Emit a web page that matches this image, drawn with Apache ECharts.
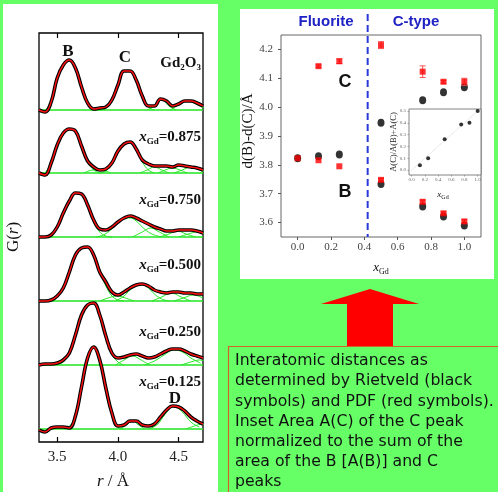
<!DOCTYPE html>
<html><head><meta charset="utf-8">
<script src="https://cdn.jsdelivr.net/npm/echarts@6/dist/echarts.min.js"></script>
<style>html,body{margin:0;padding:0;background:#66ff66;}#c{width:498px;height:492px;}</style>
</head><body><div id="c"></div>
<script>
// ---------------- Left panel: G(r) ----------------
const rGrid = [3.35,3.40,3.45,3.50,3.55,3.60,3.65,3.70,3.75,3.80,3.85,3.90,3.95,4.00,4.05,4.10,4.15,4.20,4.25,4.30,4.35,4.40,4.45,4.50,4.55,4.60,4.65,4.70];
const curveGd2O3 = [0,-2,8,32,45,50,42,23,7,1,2,3,10,25,39,39,30,14,4,4,11,9,4,6,9,9,7,4];
const curve0875  = [0,-2,10,28,40,44,42,27,12,6,3,4,10,22,29,31,24,13,9,7,7,7,6,8,7,6,5,3];
const curve0750  = [0,0,2,10,24,36,44,43,32,17,8,7,10,15,19,21,19,16,13,10,8,6,6,7,7,7,6,4];
const curve0500  = [0,0,1,5,13,29,46,53,54,46,29,19,9,6,9,13,16,17,15,11,9,8,9,9,8,8,7,7];
const curve0250  = [0,1,1,2,5,12,30,50,60,62,50,29,12,7,8,10,11,9,7,8,11,14,16,16,14,11,9,7];
const curve0125  = [-1,-3,1,2,2,1,13,42,71,82,69,41,16,3,4,8,8,4,3,5,12,19,23,22,18,12,8,5];

// fitted component peaks (green), [r, height]
const compsGd2O3 = [
  [[3.40,0],[3.45,8],[3.50,32],[3.55,45],[3.60,50],[3.65,42],[3.70,23],[3.75,7],[3.80,1],[3.85,0]],
  [[3.85,0],[3.90,2],[3.95,10],[4.00,25],[4.05,39],[4.10,39],[4.15,30],[4.20,14],[4.25,3],[4.30,0]],
  [[4.24,0],[4.30,4],[4.36,10],[4.42,4],[4.48,0]],
  [[4.43,0],[4.50,5],[4.57,9],[4.64,6],[4.72,1]]
];
const comps0875 = [
  [[3.40,0],[3.45,10],[3.50,28],[3.55,40],[3.60,44],[3.65,42],[3.70,27],[3.75,11],[3.80,3],[3.85,0]],
  [[3.72,0],[3.80,3],[3.86,3],[3.94,0]],
  [[3.85,0],[3.90,2],[3.95,9],[4.00,22],[4.05,29],[4.10,31],[4.15,24],[4.20,11],[4.25,3],[4.30,0]],
  [[4.18,0],[4.24,3],[4.30,6],[4.36,3],[4.42,0]],
  [[4.33,0],[4.39,3],[4.45,5],[4.51,3],[4.57,0]],
  [[4.46,0],[4.53,3],[4.60,6],[4.67,3],[4.74,0]]
];
const comps0750 = [
  [[3.40,0],[3.45,2],[3.50,10],[3.55,24],[3.60,36],[3.65,44],[3.70,43],[3.75,31],[3.80,15],[3.85,5],[3.90,1],[3.95,0]],
  [[3.82,0],[3.88,2],[3.95,8],[4.00,14],[4.05,18],[4.10,19],[4.15,16],[4.20,10],[4.25,5],[4.30,2],[4.36,0]],
  [[4.12,0],[4.20,5],[4.27,9],[4.34,5],[4.42,0]],
  [[4.34,0],[4.42,3],[4.49,6],[4.56,3],[4.64,0]],
  [[4.50,0],[4.58,3],[4.65,5],[4.72,3]]
];
const comps0500 = [
  [[3.40,0],[3.45,1],[3.50,5],[3.55,13],[3.60,29],[3.65,46],[3.70,53],[3.75,54],[3.80,46],[3.85,29],[3.90,15],[3.95,5],[4.00,1],[4.05,0]],
  [[3.85,0],[3.92,3],[3.99,5],[4.06,3],[4.13,0]],
  [[3.98,0],[4.05,5],[4.10,11],[4.15,15],[4.20,16],[4.25,13],[4.30,7],[4.36,2],[4.42,0]],
  [[4.28,0],[4.36,4],[4.44,8],[4.52,4],[4.60,0]],
  [[4.46,0],[4.54,3],[4.62,6],[4.70,3]]
];
const comps0250 = [
  [[3.50,0],[3.55,3],[3.60,11],[3.65,30],[3.70,50],[3.75,60],[3.80,62],[3.85,50],[3.90,29],[3.95,11],[4.00,3],[4.05,0]],
  [[3.98,0],[4.05,5],[4.12,9],[4.19,5],[4.26,0]],
  [[4.22,0],[4.30,4],[4.38,10],[4.46,15],[4.53,13],[4.60,7],[4.68,2]],
  [[4.52,0],[4.60,3],[4.67,5],[4.74,3]]
];
const comps0125 = [
  [[3.58,0],[3.65,12],[3.70,42],[3.75,71],[3.80,82],[3.85,69],[3.90,41],[3.95,15],[4.00,2],[4.04,0]],
  [[4.02,0],[4.07,4],[4.12,8],[4.17,4],[4.22,0]],
  [[4.25,0],[4.32,4],[4.39,15],[4.46,23],[4.53,17],[4.60,7],[4.67,2]],
  [[4.56,0],[4.63,3],[4.70,5],[4.76,3]]
];
const panelCurves = [curveGd2O3, curve0875, curve0750, curve0500, curve0250, curve0125];
const panelComps = [compsGd2O3, comps0875, comps0750, comps0500, comps0250, comps0125];
const panelOffsets = [332, 269, 205, 141, 77, 13];
const xGdLabels = ['0.875','0.750','0.500','0.250','0.125'];
const rTicks = [3.5, 4.0, 4.5];

// ---------------- Right panel: distances ----------------
const xGd = [0, 0.125, 0.25, 0.5, 0.75, 0.875, 1.0];
const dB_rietveld = [3.823, 3.830, 3.836, 3.734, 3.656, 3.621, 3.590];
const dB_pdf      = [3.823, 3.816, 3.795, 3.748, 3.672, 3.632, 3.604];
const dC_rietveld = [null, null, null, 3.946, 4.024, 4.052, 4.069];
const dC_pdf      = [null, 4.142, 4.159, 4.215, 4.123, 4.088, 4.088];
const dC_pdf_err  = [0, 0.004, 0.008, 0.012, 0.02, 0.005, 0.012];
const dB_pdf_err  = [0, 0, 0, 0.005, 0.006, 0.005, 0.006];
const xTicks = [0, 0.2, 0.4, 0.6, 0.8, 1.0];
const dTicks = [3.6, 3.7, 3.8, 3.9, 4.0, 4.1, 4.2];
const phaseBoundary = 0.42;

// ---------------- Inset ----------------
const insetX = [0.125, 0.25, 0.5, 0.75, 0.875, 1.0];
const insetArea = [0.04, 0.10, 0.26, 0.385, 0.40, 0.50];
const insetGuide = [[0, 0], [1.0, 0.5]];
const insetYTicks = [0, 0.1, 0.2, 0.3, 0.4, 0.5];

const caption = ['Interatomic distances as','determined by Rietveld (black','symbols) and PDF (red symbols).','Inset Area A(C) of the C peak','normalized to the sum of the','area of the B [A(B)] and C','peaks'];

// ------------------------------------------------
const GREEN = '#22e622';
const SERIF = 'Liberation Serif';
const series = [];
panelCurves.forEach((c, i) => {
  const off = panelOffsets[i];
  const pts = rGrid.map((r, k) => [r, off + c[k]]);
  series.push({type:'line', xAxisIndex:0, yAxisIndex:0, data:[[rGrid[0], off],[rGrid[rGrid.length-1], off]],
    symbol:'none', lineStyle:{color:GREEN, width:1.6}, z:2, silent:true});
  panelComps[i].forEach(cp => series.push({type:'line', xAxisIndex:0, yAxisIndex:0,
    data: cp.map(p => [p[0], off + p[1]]), smooth:0.4, symbol:'none',
    lineStyle:{color:GREEN, width:1}, z:2, silent:true}));
  series.push({type:'line', xAxisIndex:0, yAxisIndex:0, data:pts, smooth:0.4, symbol:'none',
    lineStyle:{color:'#000', width:3.6}, z:3, silent:true});
  series.push({type:'line', xAxisIndex:0, yAxisIndex:0, data:pts, smooth:0.4, symbol:'none',
    lineStyle:{color:'#ff1010', width:1.4}, z:4, silent:true});
});

function pairs(xs, ys) { return xs.map((x, i) => [x, ys[i]]).filter(p => p[1] != null); }
function errTriples(xs, ys, es) { return xs.map((x, i) => [x, ys[i], es[i]]).filter(p => p[1] != null && p[2] > 0); }

series.push({type:'scatter', xAxisIndex:2, yAxisIndex:1, data: pairs(xGd, dB_rietveld).concat(pairs(xGd, dC_rietveld)),
  symbol:'circle', symbolSize:[7,8], itemStyle:{color:'#000'}, z:5});
series.push({type:'custom', xAxisIndex:2, yAxisIndex:1,
  data: errTriples(xGd, dB_pdf, dB_pdf_err).concat(errTriples(xGd, dC_pdf, dC_pdf_err)),
  renderItem: (params, api) => {
    const x = api.value(0), y = api.value(1), e = api.value(2);
    const t = api.coord([x, y + e]), b = api.coord([x, y - e]);
    const w = 3, st = {stroke:'#ff5050', lineWidth:1};
    return {type:'group', children:[
      {type:'line', shape:{x1:t[0], y1:t[1], x2:b[0], y2:b[1]}, style:st},
      {type:'line', shape:{x1:t[0]-w, y1:t[1], x2:t[0]+w, y2:t[1]}, style:st},
      {type:'line', shape:{x1:b[0]-w, y1:b[1], x2:b[0]+w, y2:b[1]}, style:st}
    ]};
  }, z:6});
series.push({type:'scatter', xAxisIndex:2, yAxisIndex:1, data: pairs(xGd, dB_pdf).concat(pairs(xGd, dC_pdf)),
  symbol:'rect', symbolSize:6, itemStyle:{color:'#ff0000'}, z:7});

series.push({type:'line', xAxisIndex:3, yAxisIndex:2, data: insetGuide, symbol:'none',
  lineStyle:{color:'#c8c8c8', width:0.8, type:'dotted'}, z:8});
series.push({type:'scatter', xAxisIndex:3, yAxisIndex:2, data: pairs(insetX, insetArea),
  symbolSize:4, itemStyle:{color:'#000'}, z:9});

const f1 = v => v.toFixed(1);
const serifRich = (fs, sub, pad, bold) => ({
  i:{fontFamily:SERIF, fontStyle:'italic', fontWeight: bold ? 'bold':'normal', fontSize:fs, lineHeight:fs+2, fill:'#111'},
  b:{fontFamily:SERIF, fontWeight: bold ? 'bold':'normal', fontSize:fs, lineHeight:fs+2, fill:'#111'},
  s:{fontFamily:SERIF, fontWeight: bold ? 'bold':'normal', fontSize:sub, lineHeight:sub, padding:[pad,0,0,0], fill:'#111'}
});

const graphic = [
  {type:'rect', shape:{x:3, y:4, width:215, height:490}, style:{fill:'#fff'}, z:-10},
  {type:'rect', shape:{x:240, y:9, width:254, height:270}, style:{fill:'#fff'}, z:-10},
  {type:'rect', shape:{x:228.5, y:346.5, width:300, height:200}, style:{fill:'#66ff66', stroke:'#d2642d', lineWidth:1.2}, z:-10},
  {type:'polygon', shape:{points:[[321,304],[370,289],[419,304],[393,304],[393,346],[347,346],[347,304]]}, style:{fill:'#ff0000'}, z:10},
  {type:'text', x:235, y:351, style:{text: caption.join('\n'), font:'15.7px "DejaVu Sans"', lineHeight:20.2, fill:'#111', verticalAlign:'top'}, z:20},
  // left labels
  {type:'text', x:68, y:52, style:{text:'B', fontFamily:SERIF, fontWeight:'bold', fontSize:17, fill:'#111', align:'center', verticalAlign:'middle'}, z:20},
  {type:'text', x:125, y:58, style:{text:'C', fontFamily:SERIF, fontWeight:'bold', fontSize:17, fill:'#111', align:'center', verticalAlign:'middle'}, z:20},
  {type:'text', x:175, y:399, style:{text:'D', fontFamily:SERIF, fontWeight:'bold', fontSize:17, fill:'#111', align:'center', verticalAlign:'middle'}, z:20},
  {type:'text', x:201, y:63, style:{text:'{b|Gd}{s|2}{b|O}{s|3}', rich: serifRich(15, 9, 10, true), align:'right', verticalAlign:'middle'}, z:20},
  {type:'text', x:14, y:237, rotation:Math.PI/2, style:{text:'{b|G(}{i|r}{b|)}', rich: serifRich(17, 9, 0, false), align:'center', verticalAlign:'middle'}, z:20},
  {type:'text', x:113, y:482, style:{text:'{i|r}{b| / Å}', rich: serifRich(17, 9, 0, false), align:'center', verticalAlign:'middle'}, z:20},
  // right labels
  {type:'text', x:326, y:22, style:{text:'Fluorite', fontFamily:'Liberation Sans', fontWeight:'bold', fontSize:15, fill:'#1f22c4', align:'center', verticalAlign:'middle'}, z:20},
  {type:'text', x:416, y:22, style:{text:'C-type', fontFamily:'Liberation Sans', fontWeight:'bold', fontSize:15, fill:'#1f22c4', align:'center', verticalAlign:'middle'}, z:20},
  {type:'text', x:345, y:82, style:{text:'C', fontFamily:'Liberation Sans', fontWeight:'bold', fontSize:18, fill:'#111', align:'center', verticalAlign:'middle'}, z:20},
  {type:'text', x:345, y:192, style:{text:'B', fontFamily:'Liberation Sans', fontWeight:'bold', fontSize:18, fill:'#111', align:'center', verticalAlign:'middle'}, z:20},
  {type:'text', x:248, y:131, rotation:Math.PI/2, style:{text:'d(B)-d(C)/Å', fontFamily:SERIF, fontSize:15, fill:'#111', align:'center', verticalAlign:'middle'}, z:20},
  {type:'text', x:381, y:268, style:{text:'{i|x}{s|Gd}', rich: serifRich(13, 8, 8, false), align:'center', verticalAlign:'middle'}, z:20},
  {type:'text', x:394, y:142, rotation:Math.PI/2, style:{text:'A(C)/A(B)+A(C)', fontFamily:SERIF, fontSize:8.5, fill:'#222', align:'center', verticalAlign:'middle'}, z:20},
  {type:'text', x:443, y:195, style:{text:'{i|x}{s|Gd}', rich: serifRich(9, 6, 5, false), align:'center', verticalAlign:'middle'}, z:20}
];
const xLabelY = [137, 200, 265, 332, 382];
xGdLabels.forEach((lab, k) => graphic.push({type:'text', x:201, y:xLabelY[k],
  style:{text:'{i|x}{s|Gd}{b|=' + lab + '}', rich: serifRich(15, 9, 10, true), align:'right', verticalAlign:'middle'}, z:20}));

const hiddenLine = {show:false, onZero:false};
const option = {
  animation:false,
  backgroundColor:'#66ff66',
  grid:[
    {left:39, top:33, width:164, height:409, show:true, backgroundColor:'#fff', borderColor:'#000', borderWidth:1.3},
    {left:281, top:35, width:200, height:202, show:true, backgroundColor:'#fff', borderColor:'#666', borderWidth:1},
    {left:409, top:109, width:72, height:66, show:true, backgroundColor:'#fff', borderColor:'#666', borderWidth:0.8}
  ],
  xAxis:[
    {gridIndex:0, type:'value', min:3.35, max:4.70, axisLine:hiddenLine, splitLine:{show:false},
     axisTick:{inside:true, length:5, customValues:rTicks, lineStyle:{color:'#000', width:1.2}},
     axisLabel:{customValues:rTicks, formatter:f1, fontFamily:SERIF, fontSize:15, color:'#222', margin:8}},
    {gridIndex:0, type:'value', position:'top', min:3.35, max:4.70, axisLine:hiddenLine, splitLine:{show:false},
     axisTick:{inside:true, length:5, customValues:rTicks, lineStyle:{color:'#000', width:1.2}},
     axisLabel:{show:false}},
    {gridIndex:1, type:'value', min:-0.1, max:1.1, axisLine:hiddenLine, splitLine:{show:false},
     axisTick:{inside:false, length:3, customValues:xTicks, lineStyle:{color:'#555'}},
     axisLabel:{customValues:xTicks, formatter:f1, fontFamily:SERIF, fontSize:11, color:'#444', margin:5}},
    {gridIndex:2, type:'value', min:-0.04, max:1.05, axisLine:hiddenLine, splitLine:{show:false},
     axisTick:{inside:false, length:1.5, customValues:xTicks, lineStyle:{color:'#777', width:0.6}},
     axisLabel:{customValues:xTicks, formatter:f1, fontFamily:SERIF, fontSize:5, color:'#666', margin:2}}
  ],
  yAxis:[
    {gridIndex:0, type:'value', min:0, max:409, show:false},
    {gridIndex:1, type:'value', min:3.55, max:4.25, axisLine:hiddenLine, splitLine:{show:false},
     axisTick:{inside:false, length:3, customValues:dTicks, lineStyle:{color:'#555'}},
     axisLabel:{customValues:dTicks, formatter:f1, fontFamily:SERIF, fontSize:11, color:'#444', margin:8}},
    {gridIndex:2, type:'value', min:-0.042, max:0.517, axisLine:hiddenLine, splitLine:{show:false},
     axisTick:{inside:false, length:1.5, customValues:insetYTicks, lineStyle:{color:'#777', width:0.6}},
     axisLabel:{customValues:insetYTicks, formatter:f1, fontFamily:SERIF, fontSize:5, color:'#666', margin:3}}
  ],
  graphic: graphic,
  series: series
};
const chart = echarts.init(document.getElementById('c'), null, {renderer:'canvas'});
chart.setOption(option);
const bx = chart.convertToPixel({xAxisIndex:2}, phaseBoundary);
const by = chart.convertToPixel({yAxisIndex:1}, 3.55);
graphic.push({type:'line', shape:{x1:bx, y1:14, x2:bx, y2:by}, style:{stroke:'#2a3ad8', lineWidth:2, lineDash:[7,4]}, z:15});
chart.setOption({graphic: graphic}, {replaceMerge:['graphic']});
</script></body></html>
